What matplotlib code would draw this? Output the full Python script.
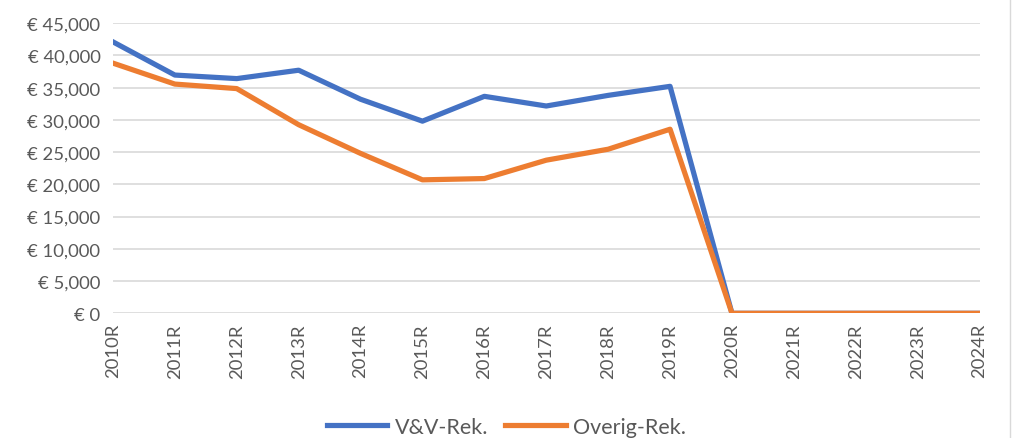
import matplotlib
matplotlib.use('Agg')
import matplotlib.pyplot as plt
from matplotlib.ticker import FuncFormatter

years = ['2010R', '2011R', '2012R', '2013R', '2014R', '2015R', '2016R', '2017R',
         '2018R', '2019R', '2020R', '2021R', '2022R', '2023R', '2024R']
vv_rek = [42100, 36950, 36400, 37700, 33200, 29800, 33650, 32150,
          33800, 35200, 0, 0, 0, 0, 0]
overig_rek = [38800, 35550, 34850, 29250, 24800, 20700, 20900, 23750,
              25450, 28550, 0, 0, 0, 0, 0]

plt.rcParams['font.family'] = ['Lato', 'DejaVu Sans']
grey = '#595959'

fig = plt.figure(figsize=(10.13, 4.39), dpi=100)
ax = fig.add_axes([0.1115, 0.284, 0.8555, 0.661])

x = list(range(len(years)))
ax.plot(x, vv_rek, color='#4472C4', lw=3.75, label='V&V-Rek.', solid_joinstyle='round', zorder=3)
ax.plot(x, overig_rek, color='#ED7D31', lw=3.75, label='Overig-Rek.', solid_joinstyle='round', zorder=3)

ax.set_xlim(0, len(years) - 1)
ax.set_ylim(0, 45000)
ax.set_yticks(range(0, 45001, 5000))
ax.yaxis.set_major_formatter(FuncFormatter(lambda v, p: '€ {:,.0f}'.format(v)))
ax.set_xticks(x)
ax.set_xticklabels(years, rotation=90)
ax.tick_params(axis='both', length=0, labelsize=13.3, colors=grey)
ax.tick_params(axis='x', pad=7)
ax.tick_params(axis='y', pad=9)
ax.grid(axis='y', color='#D9D9D9', lw=1.2)
for s in ax.spines.values():
    s.set_visible(False)

fig.legend(loc='center', bbox_to_anchor=(0.5, 0.026), ncol=2, frameon=False,
           fontsize=15.5, labelcolor=grey, handlelength=2.8, columnspacing=0.8,
           handletextpad=0.35)

fig.add_artist(plt.Line2D([0.9975, 0.9975], [0, 1], color='#D9D9D9', lw=1, transform=fig.transFigure))

fig.savefig('out.png', dpi=100)
